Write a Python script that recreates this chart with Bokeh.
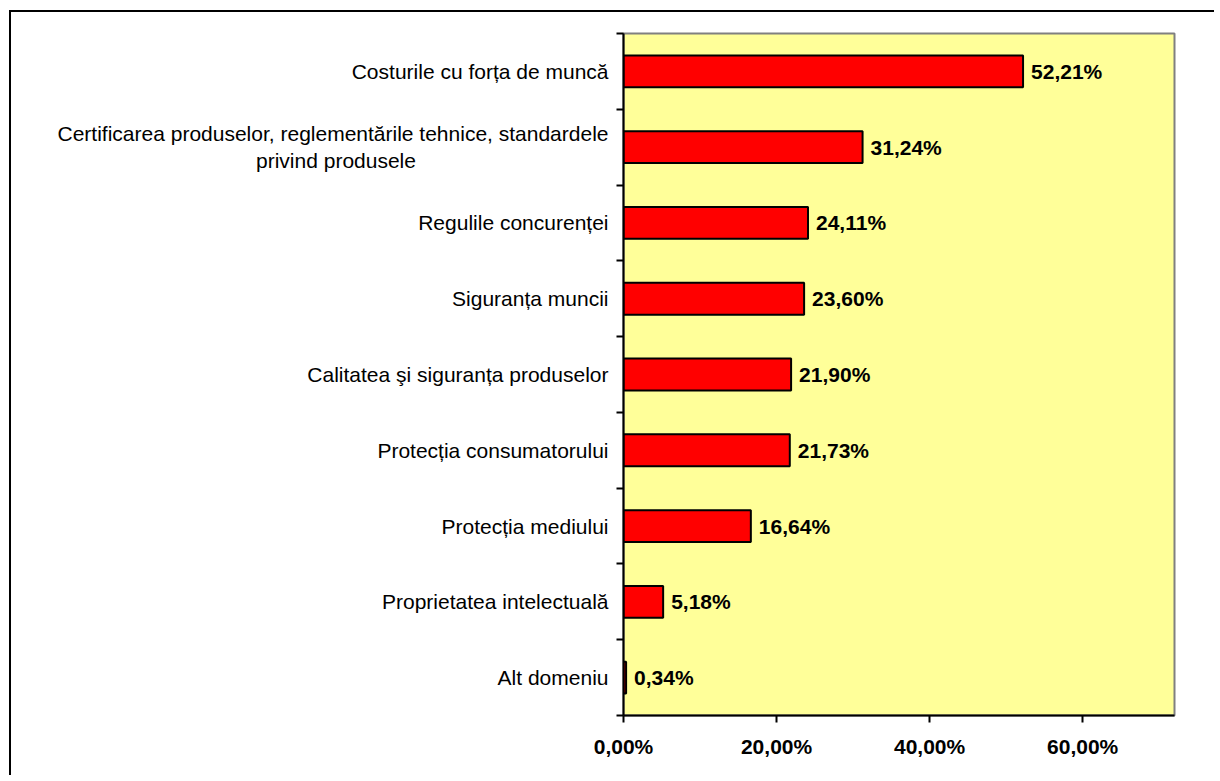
from bokeh.plotting import figure
from bokeh.models import Range1d, FixedTicker, ColumnDataSource
from bokeh.core.properties import value
from bokeh.embed import file_html
from bokeh.resources import INLINE

categories = [
    "Costurile cu forța de muncă",
    "Certificarea produselor, reglementările tehnice, standardele\nprivind produsele",
    "Regulile concurenței",
    "Siguranța muncii",
    "Calitatea şi siguranța produselor",
    "Protecția consumatorului",
    "Protecția mediului",
    "Proprietatea intelectuală",
    "Alt domeniu",
]
values = [52.21, 31.24, 24.11, 23.60, 21.90, 21.73, 16.64, 5.18, 0.34]
value_labels = ["52,21%", "31,24%", "24,11%", "23,60%", "21,90%", "21,73%", "16,64%", "5,18%", "0,34%"]
x_ticks = [0, 20, 40, 60]
x_tick_labels = ["0,00%", "20,00%", "40,00%", "60,00%"]

FONT = "Liberation Sans"
n = len(categories)
ypos = [i + 0.5 for i in range(n)]


def centered(label, pad=33):
    # visually centre the shorter second line under the first (axis lines are right-aligned)
    lines = label.split("\n")
    if len(lines) == 1:
        return label
    return lines[0] + "\n" + lines[1] + "\u00a0" * pad


p = figure(width=1205, height=765, output_backend="svg", toolbar_location=None,
           x_range=Range1d(0, 72), y_range=Range1d(n, 0),
           min_border_left=612, min_border_top=21, min_border_right=42, min_border_bottom=62)
p.styles = {"border-top": "2px solid black", "border-left": "2px solid black",
            "margin-left": "9px", "margin-top": "10px"}
p.background_fill_color = "#FFFF99"
p.border_fill_color = "white"
p.outline_line_color = "#808080"
p.outline_line_width = 2
p.grid.visible = False

src = ColumnDataSource(dict(y=ypos, v=values, lab=value_labels))
p.hbar(y="y", right="v", left=0, height=0.42, source=src,
       fill_color="#FF0000", line_color="black", line_width=2)
p.text(x="v", y="y", text="lab", source=src, x_offset=8, text_align="left",
       text_baseline="middle", text_font=value(FONT), text_font_style="bold",
       text_font_size="21px", text_color="black")

# y axis: category labels at centers (major ticks hidden), ticks at boundaries (minor)
p.yaxis.ticker = FixedTicker(ticks=ypos, minor_ticks=list(range(n + 1)))
p.yaxis.major_label_overrides = {y: centered(c) for y, c in zip(ypos, categories)}
p.yaxis.major_label_text_font = FONT
p.yaxis.major_label_text_font_size = "21px"
p.yaxis.major_label_text_color = "black"
p.yaxis.major_label_standoff = 8
p.yaxis.major_tick_out = 0
p.yaxis.major_tick_in = 0
p.yaxis.minor_tick_out = 7
p.yaxis.minor_tick_in = 0
p.yaxis.minor_tick_line_width = 2
p.yaxis.minor_tick_line_color = "black"
p.yaxis.axis_line_width = 2
p.yaxis.axis_line_color = "black"

p.xaxis.ticker = FixedTicker(ticks=x_ticks)
p.xaxis.major_label_overrides = {t: l for t, l in zip(x_ticks, x_tick_labels)}
p.xaxis.major_tick_out = 7
p.xaxis.major_tick_in = 0
p.xaxis.minor_tick_out = 0
p.xaxis.minor_tick_in = 0
p.xaxis.axis_line_width = 2
p.xaxis.major_tick_line_width = 2
p.xaxis.major_label_text_font = FONT
p.xaxis.major_label_text_font_style = "bold"
p.xaxis.major_label_text_font_size = "21px"
p.xaxis.major_label_text_color = "black"
p.xaxis.major_label_standoff = 12

open("out.html", "w").write(file_html(p, INLINE))
